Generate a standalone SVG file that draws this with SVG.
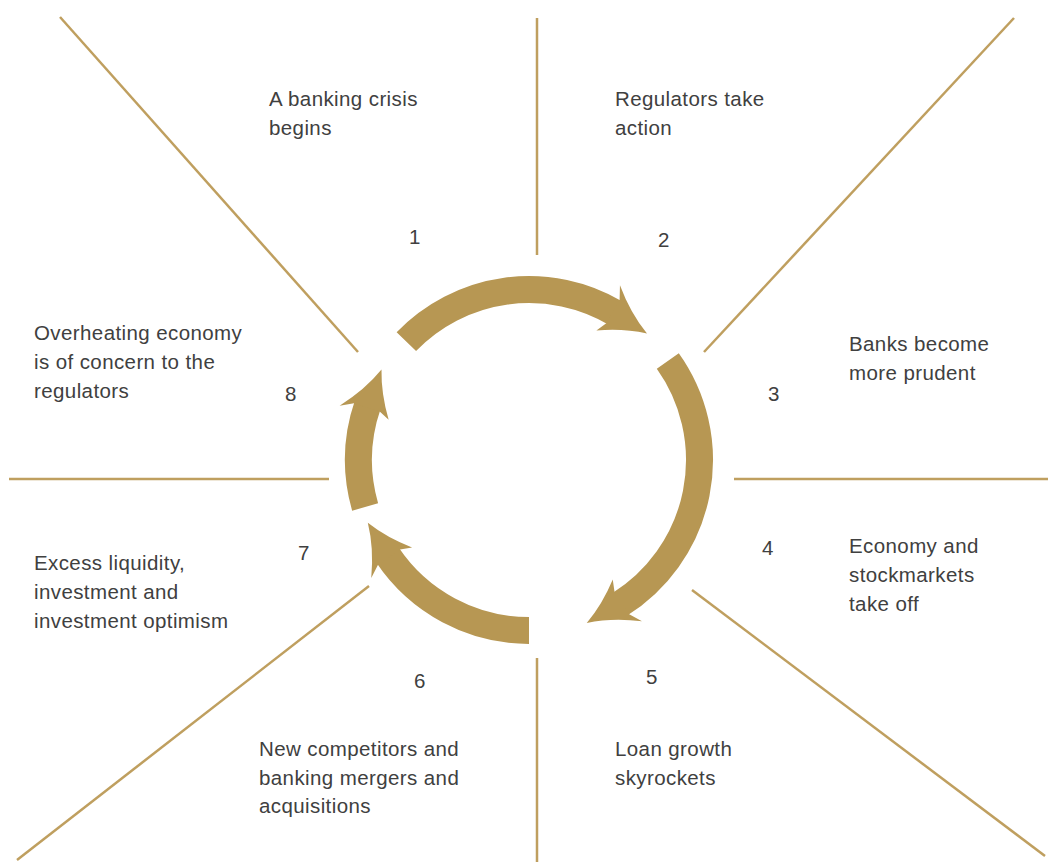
<svg xmlns="http://www.w3.org/2000/svg" xmlns:xlink="http://www.w3.org/1999/xlink" width="1048" height="862" viewBox="0 0 1048 862">
<style>
.div{stroke:#bf9f5f;stroke-width:2.5;fill:none}
.shaft{stroke:#b79753;stroke-width:27;fill:none;stroke-linecap:butt}
.head{fill:#b79753}
text{font-family:"Liberation Sans",Arial,sans-serif;font-size:20.5px;letter-spacing:0.4px;fill:#404040}
</style>
<defs>
<path id="head" d="M183.89,6.42 L197,0 Q176.96,22.17 166.71,46.23 Q160.3,22.4 146,0 L156.90,5.48 Z"/>
</defs>
<rect width="1048" height="862" fill="#ffffff"/>
<g id="connectors">
<line class="div" x1="537" y1="18" x2="537" y2="255"/>
<line class="div" x1="537" y1="658" x2="537" y2="862"/>
<line class="div" x1="9" y1="479" x2="329" y2="479"/>
<line class="div" x1="734" y1="479" x2="1048" y2="479"/>
<line class="div" x1="60" y1="17" x2="358" y2="352"/>
<line class="div" x1="1014" y1="18" x2="704" y2="352"/>
<line class="div" x1="369" y1="586" x2="17" y2="860"/>
<line class="div" x1="692" y1="590" x2="1045" y2="856"/>
</g>
<g id="cycle">
<path class="shaft" d="M406.35,341.56 A170.5,170.5 0 0 1 615.54,313.09"/>
<use class="head" xlink:href="#head" href="#head" transform="translate(529,460) rotate(-62.5)"/>
<path class="shaft" d="M667.81,360.99 A170.5,170.5 0 0 1 619.35,604.59"/>
<use class="head" xlink:href="#head" href="#head" transform="translate(529,460) rotate(55)"/>
<path class="shaft" d="M529,630.5 A170.5,170.5 0 0 1 387.32,554.85"/>
<use class="head" xlink:href="#head" href="#head" transform="translate(529,460) rotate(143.2)"/>
<path class="shaft" d="M365.11,507 A170.5,170.5 0 0 1 367.79,404.49"/>
<use class="head" xlink:href="#head" href="#head" transform="translate(529,460) rotate(196)"/>
</g>
<g id="step1"><text x="269" y="106">A banking crisis</text><text x="269" y="135">begins</text><text x="409" y="244">1</text></g>
<g id="step2"><text x="615" y="106">Regulators take</text><text x="615" y="135">action</text><text x="658" y="247">2</text></g>
<g id="step3"><text x="849" y="351">Banks become</text><text x="849" y="380">more prudent</text><text x="768" y="401">3</text></g>
<g id="step4"><text x="849" y="553">Economy and</text><text x="849" y="582">stockmarkets</text><text x="849" y="611">take off</text><text x="762" y="555">4</text></g>
<g id="step5"><text x="615" y="756">Loan growth</text><text x="615" y="785">skyrockets</text><text x="646" y="684">5</text></g>
<g id="step6"><text x="259" y="756">New competitors and</text><text x="259" y="785">banking mergers and</text><text x="259" y="813">acquisitions</text><text x="414" y="688">6</text></g>
<g id="step7"><text x="34" y="570">Excess liquidity,</text><text x="34" y="599">investment and</text><text x="34" y="628">investment optimism</text><text x="298" y="560">7</text></g>
<g id="step8"><text x="34" y="340">Overheating economy</text><text x="34" y="369">is of concern to the</text><text x="34" y="398">regulators</text><text x="285" y="401">8</text></g>
</svg>
